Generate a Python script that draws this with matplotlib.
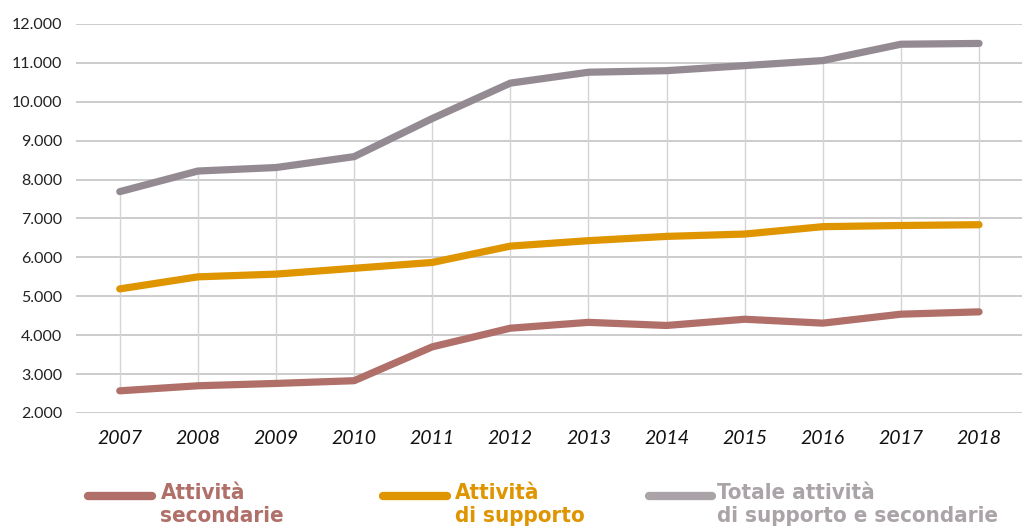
import matplotlib.pyplot as plt
from matplotlib.lines import Line2D
import numpy as np

years = [2007, 2008, 2009, 2010, 2011, 2012, 2013, 2014, 2015, 2016, 2017, 2018]
secondarie = [2570, 2700, 2760, 2830, 3700, 4180, 4330, 4250, 4410, 4310, 4540, 4600]
supporto = [5190, 5500, 5570, 5720, 5870, 6290, 6430, 6540, 6600, 6790, 6820, 6840]
totale = [7690, 8220, 8310, 8590, 9570, 10480, 10760, 10800, 10930, 11060, 11480, 11500]

yticks = [2000, 3000, 4000, 5000, 6000, 7000, 8000, 9000, 10000, 11000, 12000]
ytick_labels = ["2.000", "3.000", "4.000", "5.000", "6.000", "7.000", "8.000",
                "9.000", "10.000", "11.000", "12.000"]

c_sec = "#b07069"
c_sup = "#df9500"
c_tot = "#948b92"
c_tot_leg = "#aaa4a8"

fig = plt.figure(figsize=(10.22, 5.32), dpi=100)
ax = fig.add_axes([0.0744, 0.2237, 0.9256, 0.7312])

for y in yticks:
    ax.axhline(y, color="#c8c8c8", lw=1.3, zorder=1)
ax.vlines(years, secondarie, totale, color="#d4d4d4", lw=1.0, zorder=1)

lw = 5.2
ax.plot(years, secondarie, color=c_sec, lw=lw, solid_capstyle="round", solid_joinstyle="round", zorder=3)
ax.plot(years, supporto, color=c_sup, lw=lw, solid_capstyle="round", solid_joinstyle="round", zorder=3)
ax.plot(years, totale, color=c_tot, lw=lw, solid_capstyle="round", solid_joinstyle="round", zorder=3)

ax.set_xlim(2006.44, 2018.55)
ax.set_ylim(2000, 12000)
ax.set_yticks(yticks)
ax.set_yticklabels(ytick_labels, fontsize=11.5, color="#222222", family="Lato")
ax.set_xticks(years)
ax.set_xticklabels([str(y) for y in years], fontsize=14, style="italic", family="Lato", color="#111111")
ax.tick_params(axis="both", length=0)
ax.tick_params(axis="y", pad=10)
ax.tick_params(axis="x", pad=12)
for s in ax.spines.values():
    s.set_visible(False)

# legend
legend_items = [
    (0.086, 0.149, 0.157, c_sec, c_sec, "Attività\nsecondarie"),
    (0.375, 0.437, 0.445, c_sup, c_sup, "Attività\ndi supporto"),
    (0.635, 0.697, 0.702, c_tot_leg, c_tot_leg, "Totale attività\ndi supporto e secondarie"),
]
for x0, x1, xt, lc, tc, label in legend_items:
    fig.add_artist(Line2D([x0, x1], [0.068, 0.068], color=lc, lw=6, solid_capstyle="round",
                          transform=fig.transFigure))
    fig.text(xt, 0.092, label, color=tc, fontsize=16, fontweight="bold",
             family="DejaVu Sans", fontstretch="condensed", va="top", ha="left",
             linespacing=1.2)

fig.savefig("out.png", dpi=100)
